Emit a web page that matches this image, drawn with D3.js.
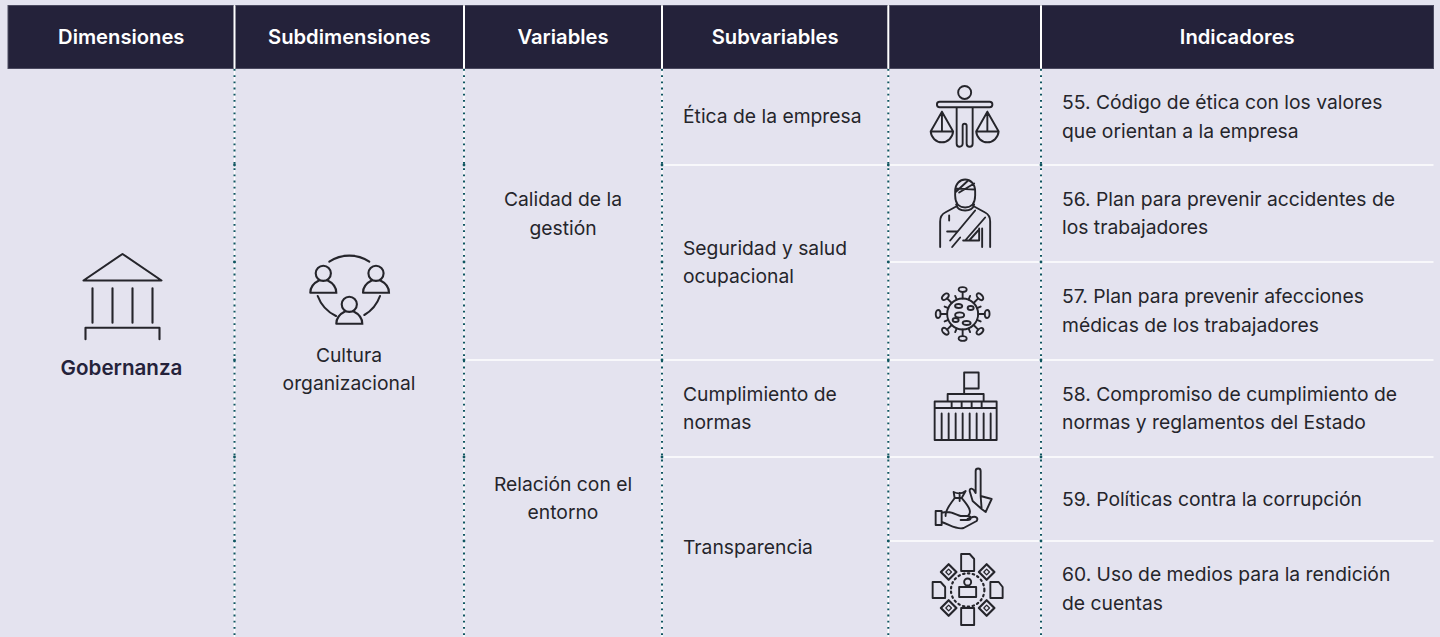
<!DOCTYPE html>
<html>
<head>
<meta charset="utf-8">
<script src="https://cdn.jsdelivr.net/npm/d3@7"></script>
<style>
  html, body { margin: 0; padding: 0; background: #e4e3ef; }
  svg { display: block; }
  text { font-family: "Inter", "Liberation Sans", sans-serif; }
</style>
</head>
<body>
<div id="chart"></div>
<script>
// table content
const headers = ["Dimensiones", "Subdimensiones", "Variables", "Subvariables", "", "Indicadores"];
const dimensions = ["Gobernanza"];
const subdimensions = [["Cultura", "organizacional"]];
const variables = [
  {lines: ["Calidad de la", "gestión"], from: 0, to: 3},
  {lines: ["Relación con el", "entorno"], from: 3, to: 6}
];
const subvariables = [
  {lines: ["Ética de la empresa"], from: 0, to: 1},
  {lines: ["Seguridad y salud", "ocupacional"], from: 1, to: 3},
  {lines: ["Cumplimiento de", "normas"], from: 3, to: 4},
  {lines: ["Transparencia"], from: 4, to: 6}
];
const indicators = [
  ["55. Código de ética con los valores", "que orientan a la empresa"],
  ["56. Plan para prevenir accidentes de", "los trabajadores"],
  ["57. Plan para prevenir afecciones", "médicas de los trabajadores"],
  ["58. Compromiso de cumplimiento de", "normas y reglamentos del Estado"],
  ["59. Políticas contra la corrupción"],
  ["60. Uso de medios para la rendición", "de cuentas"]
];
const iconNames = ["scales", "injured", "virus", "building", "bribe", "docs"];

const width = 1440, height = 637;
const ink = "#24223a", body = "#25252b";
const columnEdges = [8, 234.5, 464, 662, 888.3, 1041, 1433.5];
const rowEdges = [68.5, 165, 262, 360, 457, 541, 637];

const svg = d3.select("#chart").append("svg")
  .attr("width", width).attr("height", height);

const cx = i => (columnEdges[i] + columnEdges[i + 1]) / 2;
const rowMid = (a, b) => (rowEdges[a] + rowEdges[b]) / 2;

// header band
svg.append("rect")
  .attr("x", columnEdges[0]).attr("y", 5.5)
  .attr("width", columnEdges[6] - columnEdges[0]).attr("height", 63)
  .attr("fill", ink).attr("stroke", "#4b4a60").attr("stroke-width", 1);

svg.selectAll("text.head").data(headers).join("text")
  .attr("class", "head")
  .attr("x", (d, i) => cx(i))
  .attr("y", 44)
  .attr("text-anchor", "middle")
  .attr("font-size", 20.2)
  .attr("font-weight", 600)
  .attr("fill", "#ffffff")
  .text(d => d);

// white row rules, each one starts at the column where the merged cell ends
const ruleStart = [3, 4, 2, 3, 4];
ruleStart.forEach((c, i) => {
  svg.append("line")
    .attr("x1", columnEdges[c]).attr("x2", columnEdges[6])
    .attr("y1", rowEdges[i + 1]).attr("y2", rowEdges[i + 1])
    .attr("stroke", "#ffffff").attr("stroke-width", 1.3);
});

// column separators: solid in the header, dotted over white below
columnEdges.slice(1, 6).forEach(x => {
  svg.append("line").attr("x1", x).attr("x2", x).attr("y1", 6).attr("y2", 68)
    .attr("stroke", "#ffffff").attr("stroke-width", 2).attr("stroke-linecap", "round");
  svg.append("line").attr("x1", x).attr("x2", x).attr("y1", 69).attr("y2", height)
    .attr("stroke", "#ffffff").attr("stroke-width", 1.4);
  svg.append("line").attr("x1", x).attr("x2", x).attr("y1", 69).attr("y2", height)
    .attr("stroke", "#0f5560").attr("stroke-width", 2).attr("stroke-dasharray", "1.8 4.4");
  rowEdges.slice(1, 6).forEach(y => {
    svg.append("circle").attr("cx", x).attr("cy", y).attr("r", 1.4).attr("fill", "#0f5560");
  });
});

function block(lines, x, y, anchor, size) {
  const t = svg.append("text")
    .attr("x", x).attr("text-anchor", anchor)
    .attr("font-size", size).attr("fill", body);
  const gap = 28.8;
  lines.forEach((l, i) => {
    t.append("tspan").attr("x", x)
      .attr("y", y - (lines.length - 1) * gap / 2 + i * gap + 6.5)
      .text(l);
  });
  return t;
}

const textSize = 19.3;
svg.append("text").attr("x", 121.5).attr("y", 375).attr("text-anchor", "middle")
  .attr("font-size", 20.6).attr("font-weight", 600).attr("fill", ink).text(dimensions[0]);
block(subdimensions[0], 349, 369.5, "middle", textSize);

variables.forEach(d => block(d.lines, 563, rowMid(d.from, d.to), "middle", textSize));
subvariables.forEach(d => block(d.lines, 683, rowMid(d.from, d.to), "start", textSize));
indicators.forEach((d, i) => block(d, 1062, rowMid(i, i + 1), "start", textSize));

// line icons, each drawn around the centre of its row
const iconPaths = {
  scales: "M-25,-15H25A2.7,2.7 0 0 1 25,-9.5H-25A2.7,2.7 0 0 1 -25,-15ZM-8,-9.5V27A3,3 0 0 0 -2,27V9A2,2 0 0 1 2,9V27A3,3 0 0 0 8,27V-9.5M-22.7,-5L-34,14.7H-11.5ZM-34,14.7A11.3,12 0 0 0 -11.5,14.7M-22.7,-5V14.7M22.7,-5L11.5,14.7H34ZM11.5,14.7A11.3,12 0 0 0 34,14.7M22.7,-5V14.7",
  injured: "M-10,-22C-10,-38 10,-38 10,-22V-18C10,-8 4,-6 0,-6C-4,-6 -10,-8 -10,-18ZM-10,-21L3,-33M-9,-25L10,-24M-6,-21L9,-30M-9,-9C-7,-1 7,-1 9,-9M-9,-7L-20,-1C-24,1 -25,4 -25,8V33.5M9,-7L20,-1C24,1 25,4 25,8V33.5M-15,27L10,-3M0,27L20,4M-18,18H-8M-16,2V7M-13,33.5L-5,24M-2,27H14V15M4,27L13,17M17,33.5V15",
  building: "M-31,-7H31V-0.5H-31ZM-31,-0.5V31.5H31V-0.5M-18,-7V-14.5H18V-7M-1.5,-14.5V-36H13V-20H-1.5M-14,-7V-0.5M-4,-7V-0.5M6,-7V-0.5M16,-7V-0.5M-24,5V31.5M-17,5V31.5M-10,5V31.5M-3,5V31.5M4,5V31.5M11,5V31.5M18,5V31.5M25,5V31.5",
  bribe: "M-29,12H-23V26H-29ZM-23,14C-16,11 -10,15 -4,17H3C7,17 7,21 3,21H-4M-23,23C-14,26 -8,31 -1,29L12,22C14,19 11,17 8,18L3,20M-11,-7C-7,-5 -3,-5 1,-8L-3,-1C2,5 8,12 4,16M-11,-7L-10,-1C-14,5 -20,11 -19,17M-10,-1H-3M-5,-6V2M11,-6V-28A2.5,2.5 0 0 1 16,-28V-3M11,-6C8,-12 5,-11 5,-8L8,2L17,10M16,-3L27,0L21,13L17,10Z",
  docs: "M-6.5,-36H2L6.5,-31V-19H-6.5ZM-6.5,18H6.5V35H-6.5ZM-35,-8H-27L-22.5,-3V8H-35ZM22.7,-8H31L35,-3V8H22.7ZM-8.5,7V-3H8.5V7Z"
};
const iconShift = {scales: [0, 0], injured: [0.5, 0], virus: [-2, 3], building: [1, 0], bribe: [0, 0], docs: [3, 1]};

const iconG = svg.selectAll("g.icon").data(iconNames).join("g")
  .attr("class", "icon")
  .attr("transform", (d, i) => `translate(${cx(4) + iconShift[d][0]},${rowMid(i, i + 1) + iconShift[d][1]})`)
  .attr("fill", "none").attr("stroke", body).attr("stroke-width", 1.9)
  .attr("stroke-linejoin", "round").attr("stroke-linecap", "round");
iconG.filter(d => iconPaths[d]).append("path").attr("d", d => iconPaths[d]);
iconG.filter(d => d === "scales").append("circle").attr("cy", -24.3).attr("r", 6.5);

// docs: dotted ring, head and the four turned sheets
const docs = iconG.filter(d => d === "docs");
docs.append("circle").attr("r", 16.7).attr("stroke-width", 2.2).attr("stroke-dasharray", "1.5 3.4");
docs.append("circle").attr("cy", -8).attr("r", 3.5);
[[-19, -18], [19, -18], [-19, 18], [19, 18]].forEach(p => {
  const g = docs.append("g").attr("transform", `translate(${p[0]},${p[1]}) rotate(45)`);
  g.append("rect").attr("x", -5.5).attr("y", -5.5).attr("width", 11).attr("height", 11).attr("stroke-width", 2.2);
  g.append("rect").attr("x", -2).attr("y", -2).attr("width", 4).attr("height", 4).attr("stroke-width", 1.2);
});

// virus: eight stalks with short spikes between them, blobs inside
const virus = iconG.filter(d => d === "virus");
virus.append("circle").attr("r", 15.5);
d3.range(8).forEach(k => {
  const g = virus.append("g").attr("transform", `rotate(${k * 45})`);
  g.append("line").attr("y1", -15.5).attr("y2", -22);
  g.append("ellipse").attr("cy", -24.5).attr("rx", 4).attr("ry", 2.4);
  const s = virus.append("g").attr("transform", `rotate(${k * 45 + 22.5})`);
  s.append("line").attr("y1", -15.5).attr("y2", -19.5);
});
[[-3, 1, 4.5, 2.6], [-4, -8, 3.6, 2], [8, -6, 3, 2], [-7, 6, 3, 2], [4, 9, 4, 2]].forEach(e => {
  virus.append("ellipse").attr("cx", e[0]).attr("cy", e[1]).attr("rx", e[2]).attr("ry", e[3]);
});

// section icons
const temple = svg.append("g")
  .attr("transform", "translate(122.5,300)")
  .attr("fill", "none").attr("stroke", body).attr("stroke-width", 2.1)
  .attr("stroke-linejoin", "round").attr("stroke-linecap", "round");
temple.append("path").attr("d", "M-39,-19.5L0,-46L39,-19.5ZM-30,-11.7V22.7M-10,-11.7V22.7M10,-11.7V22.7M30,-11.7V22.7M-37,39.3V27.7H37V39.3");

const people = svg.append("g")
  .attr("transform", "translate(349,290)")
  .attr("fill", "none").attr("stroke", body).attr("stroke-width", 2.1)
  .attr("stroke-linecap", "round");
[[-25.7, -16.7], [27, -16.7], [0.3, 14.3]].forEach(p => {
  const g = people.append("g").attr("transform", `translate(${p[0]},${p[1]})`);
  g.append("circle").attr("cy", 0).attr("r", 7.6);
  g.append("path").attr("d", "M-13,19.4H13C13,12 8,9 4,7M-13,19.4C-13,12 -8,9 -4,7");
});
people.append("path").attr("d", "M-19.7,-28.3A36,36 0 0 1 20.3,-28.3M-31.3,6A36,36 0 0 0 -13,26M31,6A36,36 0 0 1 15.3,25");
</script>
</body>
</html>
